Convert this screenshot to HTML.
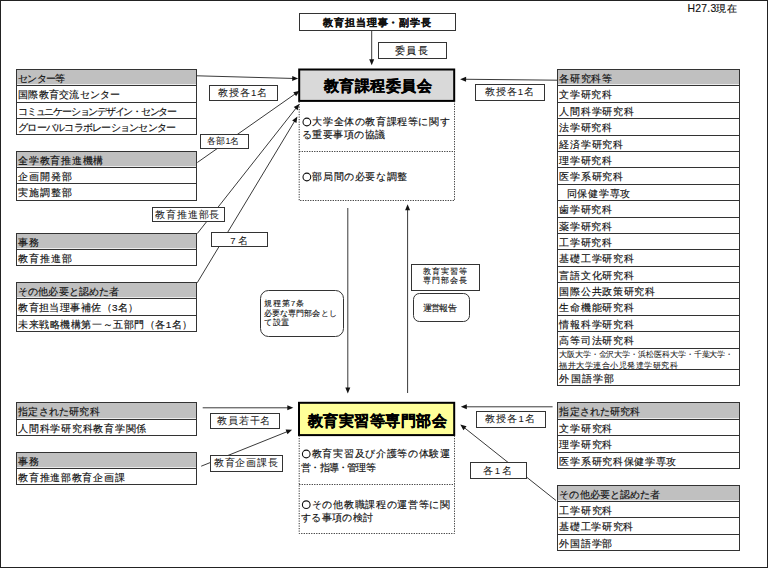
<!DOCTYPE html>
<html><head><meta charset="utf-8"><style>
html,body{margin:0;padding:0;background:#fff;}
svg{display:block;font-family:'Liberation Sans', sans-serif;}
</style></head><body>
<svg width="768" height="568" viewBox="0 0 768 568">
<rect x="0" y="0" width="768" height="568" fill="#fff"/>
<line x1="197.00" y1="75.80" x2="293.20" y2="78.46" stroke="#3a3a3a" stroke-width="1"/>
<polygon points="298.20,78.60 292.13,80.93 292.27,75.94" fill="#111"/>
<line x1="197.30" y1="162.50" x2="295.51" y2="93.67" stroke="#3a3a3a" stroke-width="1"/>
<polygon points="299.60,90.80 296.12,96.29 293.25,92.20" fill="#111"/>
<line x1="197.30" y1="233.50" x2="296.31" y2="107.83" stroke="#3a3a3a" stroke-width="1"/>
<polygon points="299.40,103.90 297.65,110.16 293.72,107.07" fill="#111"/>
<line x1="197.20" y1="282.80" x2="294.82" y2="120.88" stroke="#3a3a3a" stroke-width="1"/>
<polygon points="297.40,116.60 296.44,123.03 292.16,120.45" fill="#111"/>
<line x1="557.00" y1="80.20" x2="465.10" y2="79.25" stroke="#3a3a3a" stroke-width="1"/>
<polygon points="460.10,79.20 466.13,76.76 466.07,81.76" fill="#111"/>
<line x1="202.70" y1="407.80" x2="288.30" y2="407.80" stroke="#3a3a3a" stroke-width="1"/>
<polygon points="293.30,407.80 287.30,410.30 287.30,405.30" fill="#111"/>
<line x1="201.20" y1="466.20" x2="287.46" y2="431.56" stroke="#3a3a3a" stroke-width="1"/>
<polygon points="292.10,429.70 287.46,434.26 285.60,429.62" fill="#111"/>
<line x1="552.60" y1="406.80" x2="465.80" y2="406.80" stroke="#3a3a3a" stroke-width="1"/>
<polygon points="460.80,406.80 466.80,404.30 466.80,409.30" fill="#111"/>
<line x1="556.00" y1="500.50" x2="464.22" y2="427.61" stroke="#3a3a3a" stroke-width="1"/>
<polygon points="460.30,424.50 466.55,426.27 463.44,430.19" fill="#111"/>
<line x1="371.70" y1="30.50" x2="371.70" y2="60.30" stroke="#3a3a3a" stroke-width="1"/>
<polygon points="371.70,65.30 369.20,59.30 374.20,59.30" fill="#111"/>
<line x1="347.80" y1="208.00" x2="347.80" y2="388.50" stroke="#3a3a3a" stroke-width="1"/>
<polygon points="347.80,393.50 345.30,387.50 350.30,387.50" fill="#111"/>
<line x1="407.60" y1="393.00" x2="407.60" y2="209.20" stroke="#3a3a3a" stroke-width="1"/>
<polygon points="407.60,204.20 410.10,210.20 405.10,210.20" fill="#111"/>
<rect x="16.5" y="69.5" width="180.00" height="14.80" fill="#c0c0c0" stroke="none" stroke-width="0"/>
<rect x="16.5" y="69.5" width="180.00" height="65.00" fill="none" stroke="#333" stroke-width="1"/>
<line x1="16.5" y1="85.5" x2="196.5" y2="85.5" stroke="#333" stroke-width="1"/>
<line x1="16.5" y1="102.5" x2="196.5" y2="102.5" stroke="#333" stroke-width="1"/>
<line x1="16.5" y1="118.5" x2="196.5" y2="118.5" stroke="#333" stroke-width="1"/>
<text x="18.21" y="81.72" font-size="9.9" textLength="47.09" lengthAdjust="spacing" fill="#111" stroke="#111" stroke-width="0.15">センター等</text>
<text x="18.21" y="98.22" font-size="9.9" textLength="101.99" lengthAdjust="spacing" fill="#111" stroke="#111" stroke-width="0.15">国際教育交流センター</text>
<text x="18.21" y="114.72" font-size="9.9" textLength="158.89" lengthAdjust="spacing" fill="#111" stroke="#111" stroke-width="0.15">コミュニケーションデザイン・センター</text>
<text x="18.21" y="130.72" font-size="9.9" textLength="157.99" lengthAdjust="spacing" fill="#111" stroke="#111" stroke-width="0.15">グローバルコラボレーションセンター</text>
<rect x="16.5" y="151.5" width="180.00" height="14.80" fill="#c0c0c0" stroke="none" stroke-width="0"/>
<rect x="16.5" y="151.5" width="180.00" height="49.00" fill="none" stroke="#333" stroke-width="1"/>
<line x1="16.5" y1="167.5" x2="196.5" y2="167.5" stroke="#333" stroke-width="1"/>
<line x1="16.5" y1="183.5" x2="196.5" y2="183.5" stroke="#333" stroke-width="1"/>
<text x="18.21" y="163.72" font-size="9.9" textLength="85.09" lengthAdjust="spacing" fill="#111" stroke="#111" stroke-width="0.15">全学教育推進機構</text>
<text x="18.21" y="179.72" font-size="9.9" textLength="53.59" lengthAdjust="spacing" fill="#111" stroke="#111" stroke-width="0.15">企画開発部</text>
<text x="18.21" y="196.22" font-size="9.9" textLength="53.59" lengthAdjust="spacing" fill="#111" stroke="#111" stroke-width="0.15">実施調整部</text>
<rect x="16.5" y="233.5" width="180.00" height="14.80" fill="#c0c0c0" stroke="none" stroke-width="0"/>
<rect x="16.5" y="233.5" width="180.00" height="32.00" fill="none" stroke="#333" stroke-width="1"/>
<line x1="16.5" y1="249.5" x2="196.5" y2="249.5" stroke="#333" stroke-width="1"/>
<text x="18.21" y="245.72" font-size="9.9" textLength="21.19" lengthAdjust="spacing" fill="#111" stroke="#111" stroke-width="0.15">事務</text>
<text x="18.21" y="261.72" font-size="9.9" textLength="53.59" lengthAdjust="spacing" fill="#111" stroke="#111" stroke-width="0.15">教育推進部</text>
<rect x="16.5" y="282.5" width="180.00" height="14.80" fill="#c0c0c0" stroke="none" stroke-width="0"/>
<rect x="16.5" y="282.5" width="180.00" height="49.00" fill="none" stroke="#333" stroke-width="1"/>
<line x1="16.5" y1="298.5" x2="196.5" y2="298.5" stroke="#333" stroke-width="1"/>
<line x1="16.5" y1="315.5" x2="196.5" y2="315.5" stroke="#333" stroke-width="1"/>
<text x="18.21" y="294.72" font-size="9.9" textLength="100.79" lengthAdjust="spacing" fill="#111" stroke="#111" stroke-width="0.15">その他必要と認めた者</text>
<text x="18.21" y="311.22" font-size="9.9" textLength="120.19" lengthAdjust="spacing" fill="#111" stroke="#111" stroke-width="0.15">教育担当理事補佐（3名）</text>
<text x="18.21" y="327.72" font-size="9.9" textLength="174.19" lengthAdjust="spacing" fill="#111" stroke="#111" stroke-width="0.15">未来戦略機構第一～五部門（各1名）</text>
<rect x="16.5" y="402.5" width="180.00" height="15.80" fill="#c0c0c0" stroke="none" stroke-width="0"/>
<rect x="16.5" y="402.5" width="180.00" height="33.00" fill="none" stroke="#333" stroke-width="1"/>
<line x1="16.5" y1="419.5" x2="196.5" y2="419.5" stroke="#333" stroke-width="1"/>
<text x="18.21" y="415.22" font-size="9.9" textLength="81.49" lengthAdjust="spacing" fill="#111" stroke="#111" stroke-width="0.15">指定された研究科</text>
<text x="18.21" y="431.72" font-size="9.9" textLength="128.19" lengthAdjust="spacing" fill="#111" stroke="#111" stroke-width="0.15">人間科学研究科教育学関係</text>
<rect x="16.5" y="452.5" width="180.00" height="14.80" fill="#c0c0c0" stroke="none" stroke-width="0"/>
<rect x="16.5" y="452.5" width="180.00" height="32.00" fill="none" stroke="#333" stroke-width="1"/>
<line x1="16.5" y1="468.5" x2="196.5" y2="468.5" stroke="#333" stroke-width="1"/>
<text x="18.21" y="464.72" font-size="9.9" textLength="21.19" lengthAdjust="spacing" fill="#111" stroke="#111" stroke-width="0.15">事務</text>
<text x="18.21" y="480.72" font-size="9.9" textLength="106.39" lengthAdjust="spacing" fill="#111" stroke="#111" stroke-width="0.15">教育推進部教育企画課</text>
<rect x="557.5" y="69.5" width="182.00" height="14.80" fill="#c0c0c0" stroke="none" stroke-width="0"/>
<rect x="557.5" y="69.5" width="182.00" height="316.00" fill="none" stroke="#333" stroke-width="1"/>
<line x1="557.5" y1="85.5" x2="739.5" y2="85.5" stroke="#333" stroke-width="1"/>
<line x1="557.5" y1="102.5" x2="739.5" y2="102.5" stroke="#333" stroke-width="1"/>
<line x1="557.5" y1="118.5" x2="739.5" y2="118.5" stroke="#333" stroke-width="1"/>
<line x1="557.5" y1="135.5" x2="739.5" y2="135.5" stroke="#333" stroke-width="1"/>
<line x1="557.5" y1="151.5" x2="739.5" y2="151.5" stroke="#333" stroke-width="1"/>
<line x1="557.5" y1="167.5" x2="739.5" y2="167.5" stroke="#333" stroke-width="1"/>
<line x1="557.5" y1="184.5" x2="739.5" y2="184.5" stroke="#333" stroke-width="1"/>
<line x1="557.5" y1="200.5" x2="739.5" y2="200.5" stroke="#333" stroke-width="1"/>
<line x1="557.5" y1="217.5" x2="739.5" y2="217.5" stroke="#333" stroke-width="1"/>
<line x1="557.5" y1="233.5" x2="739.5" y2="233.5" stroke="#333" stroke-width="1"/>
<line x1="557.5" y1="249.5" x2="739.5" y2="249.5" stroke="#333" stroke-width="1"/>
<line x1="557.5" y1="266.5" x2="739.5" y2="266.5" stroke="#333" stroke-width="1"/>
<line x1="557.5" y1="282.5" x2="739.5" y2="282.5" stroke="#333" stroke-width="1"/>
<line x1="557.5" y1="298.5" x2="739.5" y2="298.5" stroke="#333" stroke-width="1"/>
<line x1="557.5" y1="315.5" x2="739.5" y2="315.5" stroke="#333" stroke-width="1"/>
<line x1="557.5" y1="331.5" x2="739.5" y2="331.5" stroke="#333" stroke-width="1"/>
<line x1="557.5" y1="348.5" x2="739.5" y2="348.5" stroke="#333" stroke-width="1"/>
<line x1="557.5" y1="369.5" x2="739.5" y2="369.5" stroke="#333" stroke-width="1"/>
<text x="559.41" y="81.72" font-size="9.9" textLength="52.59" lengthAdjust="spacing" fill="#111" stroke="#111" stroke-width="0.15">各研究科等</text>
<text x="559.41" y="98.22" font-size="9.9" textLength="52.59" lengthAdjust="spacing" fill="#111" stroke="#111" stroke-width="0.15">文学研究科</text>
<text x="559.41" y="114.72" font-size="9.9" textLength="74.19" lengthAdjust="spacing" fill="#111" stroke="#111" stroke-width="0.15">人間科学研究科</text>
<text x="559.41" y="131.22" font-size="9.9" textLength="52.59" lengthAdjust="spacing" fill="#111" stroke="#111" stroke-width="0.15">法学研究科</text>
<text x="559.41" y="147.72" font-size="9.9" textLength="63.49" lengthAdjust="spacing" fill="#111" stroke="#111" stroke-width="0.15">経済学研究科</text>
<text x="559.41" y="163.72" font-size="9.9" textLength="52.59" lengthAdjust="spacing" fill="#111" stroke="#111" stroke-width="0.15">理学研究科</text>
<text x="559.41" y="180.22" font-size="9.9" textLength="63.49" lengthAdjust="spacing" fill="#111" stroke="#111" stroke-width="0.15">医学系研究科</text>
<text x="566.71" y="196.72" font-size="9.9" textLength="63.69" lengthAdjust="spacing" fill="#111" stroke="#111" stroke-width="0.15">同保健学専攻</text>
<text x="559.41" y="213.22" font-size="9.9" textLength="52.59" lengthAdjust="spacing" fill="#111" stroke="#111" stroke-width="0.15">歯学研究科</text>
<text x="559.41" y="229.72" font-size="9.9" textLength="52.59" lengthAdjust="spacing" fill="#111" stroke="#111" stroke-width="0.15">薬学研究科</text>
<text x="559.41" y="245.72" font-size="9.9" textLength="52.59" lengthAdjust="spacing" fill="#111" stroke="#111" stroke-width="0.15">工学研究科</text>
<text x="559.41" y="262.22" font-size="9.9" textLength="74.19" lengthAdjust="spacing" fill="#111" stroke="#111" stroke-width="0.15">基礎工学研究科</text>
<text x="559.41" y="278.72" font-size="9.9" textLength="74.19" lengthAdjust="spacing" fill="#111" stroke="#111" stroke-width="0.15">言語文化研究科</text>
<text x="559.41" y="294.72" font-size="9.9" textLength="95.69" lengthAdjust="spacing" fill="#111" stroke="#111" stroke-width="0.15">国際公共政策研究科</text>
<text x="559.41" y="311.22" font-size="9.9" textLength="74.19" lengthAdjust="spacing" fill="#111" stroke="#111" stroke-width="0.15">生命機能研究科</text>
<text x="559.41" y="327.72" font-size="9.9" textLength="74.19" lengthAdjust="spacing" fill="#111" stroke="#111" stroke-width="0.15">情報科学研究科</text>
<text x="559.41" y="344.22" font-size="9.9" textLength="74.19" lengthAdjust="spacing" fill="#111" stroke="#111" stroke-width="0.15">高等司法研究科</text>
<text x="559.41" y="381.72" font-size="9.9" textLength="54.39" lengthAdjust="spacing" fill="#111" stroke="#111" stroke-width="0.15">外国語学部</text>
<text x="558.96" y="356.78" font-size="8.0" textLength="174.36" lengthAdjust="spacing" fill="#111" stroke="#111" stroke-width="0.05">大阪大学・金沢大学・浜松医科大学・千葉大学・</text>
<text x="558.96" y="367.68" font-size="8.0" textLength="119.06" lengthAdjust="spacing" fill="#111" stroke="#111" stroke-width="0.05">福井大学連合小児発達学研究科</text>
<rect x="557.5" y="402.5" width="182.00" height="15.80" fill="#c0c0c0" stroke="none" stroke-width="0"/>
<rect x="557.5" y="402.5" width="182.00" height="66.00" fill="none" stroke="#333" stroke-width="1"/>
<line x1="557.5" y1="419.5" x2="739.5" y2="419.5" stroke="#333" stroke-width="1"/>
<line x1="557.5" y1="435.5" x2="739.5" y2="435.5" stroke="#333" stroke-width="1"/>
<line x1="557.5" y1="452.5" x2="739.5" y2="452.5" stroke="#333" stroke-width="1"/>
<text x="559.41" y="415.22" font-size="9.9" textLength="80.99" lengthAdjust="spacing" fill="#111" stroke="#111" stroke-width="0.15">指定された研究科</text>
<text x="559.41" y="431.72" font-size="9.9" textLength="52.79" lengthAdjust="spacing" fill="#111" stroke="#111" stroke-width="0.15">文学研究科</text>
<text x="559.41" y="448.22" font-size="9.9" textLength="52.79" lengthAdjust="spacing" fill="#111" stroke="#111" stroke-width="0.15">理学研究科</text>
<text x="559.41" y="464.72" font-size="9.9" textLength="116.99" lengthAdjust="spacing" fill="#111" stroke="#111" stroke-width="0.15">医学系研究科保健学専攻</text>
<rect x="557.5" y="485.5" width="182.00" height="14.80" fill="#c0c0c0" stroke="none" stroke-width="0"/>
<rect x="557.5" y="485.5" width="182.00" height="65.00" fill="none" stroke="#333" stroke-width="1"/>
<line x1="557.5" y1="501.5" x2="739.5" y2="501.5" stroke="#333" stroke-width="1"/>
<line x1="557.5" y1="517.5" x2="739.5" y2="517.5" stroke="#333" stroke-width="1"/>
<line x1="557.5" y1="534.5" x2="739.5" y2="534.5" stroke="#333" stroke-width="1"/>
<text x="559.41" y="497.72" font-size="9.9" textLength="100.69" lengthAdjust="spacing" fill="#111" stroke="#111" stroke-width="0.15">その他必要と認めた者</text>
<text x="559.41" y="513.72" font-size="9.9" textLength="52.79" lengthAdjust="spacing" fill="#111" stroke="#111" stroke-width="0.15">工学研究科</text>
<text x="559.41" y="530.22" font-size="9.9" textLength="73.99" lengthAdjust="spacing" fill="#111" stroke="#111" stroke-width="0.15">基礎工学研究科</text>
<text x="559.41" y="546.72" font-size="9.9" textLength="52.79" lengthAdjust="spacing" fill="#111" stroke="#111" stroke-width="0.15">外国語学部</text>
<rect x="299.5" y="13.5" width="156.00" height="17.00" fill="#fff" stroke="#333" stroke-width="1"/>
<text x="323.39" y="25.87" font-size="9.5" font-weight="bold" textLength="107.41" lengthAdjust="spacing" fill="#111" stroke="#111" stroke-width="0.2">教育担当理事・副学長</text>
<rect x="378.5" y="42.5" width="68.00" height="16.00" fill="#fff" stroke="#333" stroke-width="1"/>
<text x="394.80" y="53.95" font-size="10.0" textLength="33.20" lengthAdjust="spacing" fill="#111" stroke="#111" stroke-width="0.15">委員長</text>
<rect x="299.2" y="69.5" width="155.00" height="31.40" fill="#d9d9d9" stroke="#000" stroke-width="2"/>
<text x="323.59" y="91.49" font-size="14.5" font-weight="bold" textLength="107.91" lengthAdjust="spacing" fill="#000" stroke="#000" stroke-width="0.3">教育課程委員会</text>
<path d="M299.2 101.5 V200.5 H454.5 V101.5 M299.2 151.5 H454.5" fill="none" stroke="#333" stroke-width="1" stroke-dasharray="1.2 1.3"/>
<circle cx="306.85" cy="122.00" r="3.85" fill="none" stroke="#111" stroke-width="1.1"/>
<text x="312.31" y="125.32" font-size="9.9" textLength="137.29" lengthAdjust="spacing" fill="#111" stroke="#111" stroke-width="0.15">大学全体の教育課程等に関す</text>
<text x="301.81" y="137.82" font-size="9.9" textLength="83.39" lengthAdjust="spacing" fill="#111" stroke="#111" stroke-width="0.15">る重要事項の協議</text>
<circle cx="306.85" cy="177.00" r="3.85" fill="none" stroke="#111" stroke-width="1.1"/>
<text x="312.31" y="180.32" font-size="9.9" textLength="94.89" lengthAdjust="spacing" fill="#111" stroke="#111" stroke-width="0.15">部局間の必要な調整</text>
<rect x="299.0" y="402.8" width="155.20" height="32.30" fill="#ffff99" stroke="#000" stroke-width="2"/>
<text x="307.99" y="425.59" font-size="14.5" font-weight="bold" textLength="139.01" lengthAdjust="spacing" fill="#000" stroke="#000" stroke-width="0.3">教育実習等専門部会</text>
<path d="M299.2 435.5 V533.5 H454.5 V435.5 M299.2 484.5 H454.5" fill="none" stroke="#333" stroke-width="1" stroke-dasharray="1.2 1.3"/>
<circle cx="306.25" cy="454.00" r="3.85" fill="none" stroke="#111" stroke-width="1.1"/>
<text x="311.71" y="457.32" font-size="9.9" textLength="138.39" lengthAdjust="spacing" fill="#111" stroke="#111" stroke-width="0.15">教育実習及び介護等の体験運</text>
<text x="301.21" y="470.62" font-size="9.9" textLength="74.49" lengthAdjust="spacing" fill="#111" stroke="#111" stroke-width="0.15">営・指導・管理等</text>
<circle cx="306.25" cy="504.70" r="3.85" fill="none" stroke="#111" stroke-width="1.1"/>
<text x="311.71" y="508.02" font-size="9.9" textLength="138.39" lengthAdjust="spacing" fill="#111" stroke="#111" stroke-width="0.15">その他教職課程の運営等に関</text>
<text x="301.21" y="520.72" font-size="9.9" textLength="71.59" lengthAdjust="spacing" fill="#111" stroke="#111" stroke-width="0.15">する事項の検討</text>
<rect x="260.5" y="290.5" width="83.00" height="46.00" fill="#fff" stroke="#333" stroke-width="1" rx="8"/>
<text x="264.05" y="306.31" font-size="8.1" textLength="40.17" lengthAdjust="spacing" fill="#111" stroke="#111" stroke-width="0.1">規程第7条</text>
<text x="264.05" y="316.21" font-size="8.1" textLength="72.57" lengthAdjust="spacing" fill="#111" stroke="#111" stroke-width="0.1">必要な専門部会とし</text>
<text x="264.05" y="325.41" font-size="8.1" textLength="25.37" lengthAdjust="spacing" fill="#111" stroke="#111" stroke-width="0.1">て設置</text>
<rect x="411.5" y="264.5" width="68.00" height="26.00" fill="#fff" stroke="#333" stroke-width="1"/>
<text x="422.76" y="274.18" font-size="8.0" textLength="43.76" lengthAdjust="spacing" fill="#111" stroke="#111" stroke-width="0.1">教育実習等</text>
<text x="422.76" y="283.38" font-size="8.0" textLength="43.76" lengthAdjust="spacing" fill="#111" stroke="#111" stroke-width="0.1">専門部会長</text>
<rect x="413.5" y="293.5" width="56.00" height="28.00" fill="#fff" stroke="#333" stroke-width="1" rx="6"/>
<text x="422.70" y="310.55" font-size="8.8" textLength="34.06" lengthAdjust="spacing" fill="#111" stroke="#111" stroke-width="0.1">運営報告</text>
<rect x="209.5" y="85.5" width="68.00" height="15.00" fill="#fff" stroke="#333" stroke-width="1"/>
<text x="218.03" y="95.57" font-size="9.6" textLength="49.35" lengthAdjust="spacing" fill="#1a1a1a" stroke="#1a1a1a" stroke-width="0.05">教授各1名</text>
<rect x="200.5" y="134.5" width="48.00" height="14.00" fill="#fff" stroke="#333" stroke-width="1"/>
<text x="207.30" y="144.45" font-size="8.8" textLength="32.16" lengthAdjust="spacing" fill="#1a1a1a" stroke="#1a1a1a" stroke-width="0.05">各部1名</text>
<rect x="152.5" y="207.5" width="72.00" height="14.00" fill="#fff" stroke="#333" stroke-width="1"/>
<text x="155.43" y="217.77" font-size="9.6" textLength="64.05" lengthAdjust="spacing" fill="#1a1a1a" stroke="#1a1a1a" stroke-width="0.05">教育推進部長</text>
<rect x="211.5" y="232.5" width="56.00" height="14.00" fill="#fff" stroke="#333" stroke-width="1"/>
<text x="230.33" y="243.57" font-size="9.6" textLength="17.25" lengthAdjust="spacing" fill="#1a1a1a" stroke="#1a1a1a" stroke-width="0.05">7名</text>
<rect x="475.5" y="84.5" width="69.00" height="16.00" fill="#fff" stroke="#333" stroke-width="1"/>
<text x="484.83" y="94.92" font-size="9.6" textLength="49.30" lengthAdjust="spacing" fill="#1a1a1a" stroke="#1a1a1a" stroke-width="0.05">教授各1名</text>
<rect x="210.5" y="413.5" width="69.00" height="15.00" fill="#fff" stroke="#333" stroke-width="1"/>
<text x="217.43" y="423.62" font-size="9.6" textLength="52.85" lengthAdjust="spacing" fill="#1a1a1a" stroke="#1a1a1a" stroke-width="0.05">教員若干名</text>
<rect x="210.5" y="455.5" width="72.00" height="16.00" fill="#fff" stroke="#333" stroke-width="1"/>
<text x="213.73" y="466.47" font-size="9.6" textLength="63.95" lengthAdjust="spacing" fill="#1a1a1a" stroke="#1a1a1a" stroke-width="0.05">教育企画課長</text>
<rect x="476.5" y="411.5" width="69.00" height="16.00" fill="#fff" stroke="#333" stroke-width="1"/>
<text x="485.33" y="421.97" font-size="9.6" textLength="49.45" lengthAdjust="spacing" fill="#1a1a1a" stroke="#1a1a1a" stroke-width="0.05">教授各1名</text>
<rect x="470.5" y="462.5" width="56.00" height="16.00" fill="#fff" stroke="#333" stroke-width="1"/>
<text x="483.13" y="473.67" font-size="9.6" textLength="28.45" lengthAdjust="spacing" fill="#1a1a1a" stroke="#1a1a1a" stroke-width="0.05">各1名</text>
<text x="687.57" y="11.58" font-size="10.4" textLength="49.15" lengthAdjust="spacing" fill="#111" stroke="#111" stroke-width="0.15">H27.3現在</text>
<rect x="0.5" y="0.5" width="767.00" height="567.00" fill="none" stroke="#222" stroke-width="1"/>
</svg></body></html>
